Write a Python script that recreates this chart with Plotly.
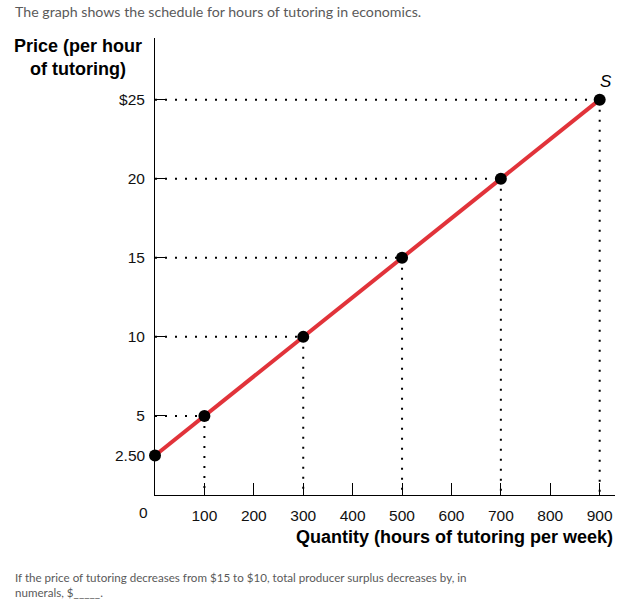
import plotly.graph_objects as go

# ---- data ----
quantity = [0, 100, 300, 500, 700, 900]
price = [2.5, 5, 10, 15, 20, 25]
x_ticks = [100, 200, 300, 400, 500, 600, 700, 800, 900]
x_tick_labels = ["100", "200", "300", "400", "500", "600", "700", "800", "900"]
y_ticks = [5, 10, 15, 20, 25]
y_tick_labels = ["5", "10", "15", "20", "$25"]
curve_label = "S"
title_text = "The graph shows the schedule for hours of tutoring in economics."
question_text = ("If the price of tutoring decreases from $15 to $10, total producer surplus decreases by, in"
                 "<br>numerals, $_____.")
x_title = "Quantity (hours of tutoring per week)"
y_title = "Price (per hour<br>of tutoring)"

X_MAX = 931
Y_MAX = 28.9
L, R, T, B = 155, 15, 38, 107
W, H = 630, 602
PW, PH = W - L - R, H - T - B

def px(xpix):
    return (xpix - L) / PW

def py(ypix):
    return (H - B - ypix) / PH

BOLD = "Liberation Sans"
TICKF = dict(family="Liberation Sans", size=15.5, color="#111")
TEXTF = "Lato"

fig = go.Figure()

# dotted guide lines
for q, p in zip(quantity[1:], price[1:]):
    fig.add_trace(go.Scatter(x=[0, q], y=[p, p], mode="lines",
                             line=dict(color="black", width=2, dash="2px,8px"),
                             hoverinfo="skip", showlegend=False))
    fig.add_trace(go.Scatter(x=[q, q], y=[p, 0], mode="lines",
                             line=dict(color="black", width=2, dash="2px,8px"),
                             hoverinfo="skip", showlegend=False))

# supply curve
fig.add_trace(go.Scatter(x=quantity, y=price, mode="lines",
                         line=dict(color="#e1333a", width=4),
                         showlegend=False, cliponaxis=False))
fig.add_trace(go.Scatter(x=quantity, y=price, mode="markers",
                         marker=dict(color="black", size=12),
                         showlegend=False, cliponaxis=False))

annotations = [
    dict(text=title_text, xref="paper", yref="paper", x=px(13), y=py(12),
         xanchor="left", yanchor="middle", showarrow=False,
         font=dict(family=TEXTF, size=14.2, color="#5a5a5a")),
    dict(text=question_text, xref="paper", yref="paper", x=px(13), y=py(585),
         xanchor="left", yanchor="middle", showarrow=False, align="left",
         font=dict(family=TEXTF, size=11.6, color="#5a5a5a")),
    dict(text="<b>" + y_title + "</b>", xref="paper", yref="paper", x=px(78), y=py(57),
         xanchor="center", yanchor="middle", showarrow=False, align="center",
         font=dict(family=BOLD, size=18, color="black")),
    dict(text="<b>" + x_title + "</b>", xref="paper", yref="paper", x=px(615), y=py(537),
         xanchor="right", yanchor="middle", showarrow=False,
         font=dict(family=BOLD, size=18, color="black")),
    dict(text="0", xref="paper", yref="paper", x=px(143), y=py(512),
         xanchor="center", yanchor="middle", showarrow=False, font=TICKF),
    dict(text="2.50", xref="paper", y=price[0], yref="y", x=px(148),
         xanchor="right", yanchor="middle", showarrow=False, font=TICKF),
    dict(text="<i>" + curve_label + "</i>", xref="x", yref="y", x=quantity[-1], y=price[-1],
         xshift=6, yshift=18, xanchor="center", yanchor="middle", showarrow=False,
         font=dict(family="Liberation Sans", size=17, color="black")),
]

fig.update_layout(
    width=W, height=H,
    margin=dict(l=L, r=R, t=T, b=B, pad=0),
    paper_bgcolor="white", plot_bgcolor="white",
    annotations=annotations,
    xaxis=dict(range=[0, X_MAX], showgrid=False, zeroline=False,
               showline=True, linecolor="black", linewidth=1,
               ticks="inside", ticklen=12, tickcolor="black", tickwidth=1,
               tickvals=x_ticks, ticktext=x_tick_labels, tickfont=TICKF,
               ticklabelstandoff=6, fixedrange=True),
    yaxis=dict(range=[0, Y_MAX], showgrid=False, zeroline=False,
               showline=True, linecolor="black", linewidth=1,
               ticks="inside", ticklen=12, tickcolor="black", tickwidth=1,
               tickvals=y_ticks, ticktext=y_tick_labels, tickfont=TICKF,
               ticklabelstandoff=6, fixedrange=True),
)

fig.write_html("out.html")
